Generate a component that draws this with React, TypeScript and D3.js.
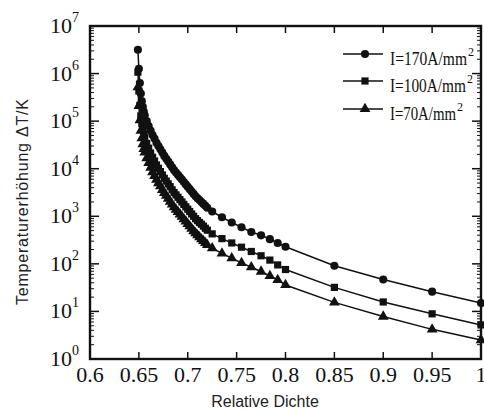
import React, { useEffect, useRef } from 'react';
import * as d3 from 'd3';

// relative density (x) shared by all three curves
const dichte = [
  0.649, 0.65, 0.651, 0.652, 0.653, 0.654, 0.655, 0.656, 0.658, 0.66,
  0.662, 0.664, 0.666, 0.668, 0.67, 0.672, 0.674, 0.676, 0.678, 0.68,
  0.682, 0.684, 0.686, 0.688, 0.69, 0.692, 0.694, 0.696, 0.698, 0.7,
  0.702, 0.704, 0.706, 0.708, 0.71, 0.712, 0.714, 0.716, 0.718, 0.72,
  0.725, 0.735, 0.745, 0.755, 0.765, 0.775, 0.784, 0.792, 0.8,
  0.85, 0.9, 0.95, 1.0,
];

// temperature rise dT/K for I=170A/mm2
const dT170 = [
  3.16e6, 1.26e6, 6.3e5, 3.8e5, 2.63e5, 2.0e5, 1.58e5, 1.32e5, 1.0e5, 7.9e4,
  6.3e4, 5.1e4, 4.3e4, 3.5e4, 3.0e4, 2.57e4, 2.19e4, 1.86e4, 1.62e4, 1.41e4,
  1.23e4, 1.07e4, 9330, 8300, 7400, 6600, 5900, 5250, 4680, 4170,
  3720, 3310, 2950, 2630, 2400, 2190, 2000, 1820, 1660, 1510,
  1260, 955, 741, 589, 468, 398, 331, 275, 229,
  91, 47, 26, 15,
];

// I=100A/mm2
const dT100 = [
  1.07e6, 4.3e5, 2.14e5, 1.29e5, 8.9e4, 6.8e4, 5.4e4, 4.5e4, 3.4e4, 2.7e4,
  2.14e4, 1.74e4, 1.45e4, 1.2e4, 1.02e4, 8700, 7400, 6300, 5500, 4800,
  4200, 3600, 3160, 2820, 2510, 2240, 2000, 1780, 1580, 1410,
  1260, 1120, 1000, 890, 810, 740, 680, 620, 560, 510,
  427, 339, 275, 224, 182, 148, 120, 95, 76,
  32, 15.8, 8.9, 5.2,
];

// I=70A/mm2
const dT70 = [
  5.2e5, 2.1e5, 1.05e5, 6.3e4, 4.4e4, 3.3e4, 2.6e4, 2.19e4, 1.66e4, 1.32e4,
  1.05e4, 8500, 7100, 5900, 5000, 4300, 3600, 3100, 2700, 2340,
  2040, 1780, 1550, 1380, 1230, 1100, 980, 870, 780, 690,
  620, 550, 490, 440, 400, 363, 331, 302, 275, 251,
  214, 166, 132, 105, 85, 69, 56, 46, 36,
  15.5, 7.8, 4.2, 2.5,
];

const legendLabels = ['I=170A/mm', 'I=100A/mm', 'I=70A/mm'];
const xTicks = [0.6, 0.65, 0.7, 0.75, 0.8, 0.85, 0.9, 0.95, 1.0];
const xTickLabels = ['0.6', '0.65', '0.7', '0.75', '0.8', '0.85', '0.9', '0.95', '1'];
const yExponents = [0, 1, 2, 3, 4, 5, 6, 7];

const W = 484, H = 411;
const left = 90, right = 481, top = 26, bottom = 359;
const serif = '"Liberation Serif", "Times New Roman", serif';
const sans = '"Liberation Sans", Arial, sans-serif';

export default function App() {
  const ref = useRef<SVGSVGElement>(null);

  useEffect(() => {
    const svg = d3.select(ref.current);
    svg.selectAll('*').remove();

    const x = d3.scaleLinear().domain([0.6, 1.0]).range([left, right]);
    const y = d3.scaleLog().domain([1, 1e7]).range([bottom, top]);

    const symbols = [d3.symbolCircle, d3.symbolSquare, d3.symbolTriangle];
    const sizes = [52, 52, 50];
    const series = [dT170, dT100, dT70];

    // curves
    const line = d3.line<number>()
      .x((d, i) => x(dichte[i]))
      .y(d => y(d));
    series.forEach((vals, s) => {
      svg.append('path')
        .attr('d', line(vals))
        .attr('fill', 'none')
        .attr('stroke', '#111')
        .attr('stroke-width', 1.5);
      svg.selectAll('.m' + s)
        .data(vals)
        .enter()
        .append('path')
        .attr('d', d3.symbol().type(symbols[s]).size(sizes[s])())
        .attr('transform', (d, i) => 'translate(' + x(dichte[i]) + ',' + y(d) + ')')
        .attr('fill', '#111');
    });

    // frame
    svg.append('rect')
      .attr('x', left).attr('y', top)
      .attr('width', right - left).attr('height', bottom - top)
      .attr('fill', 'none').attr('stroke', '#111').attr('stroke-width', 2.4);

    // x ticks (inside, bottom and top)
    xTicks.slice(1, -1).forEach(t => {
      svg.append('line').attr('x1', x(t)).attr('x2', x(t))
        .attr('y1', bottom).attr('y2', bottom - 7)
        .attr('stroke', '#111').attr('stroke-width', 1.5);
      svg.append('line').attr('x1', x(t)).attr('x2', x(t))
        .attr('y1', top).attr('y2', top + 7)
        .attr('stroke', '#111').attr('stroke-width', 1.5);
    });
    xTicks.forEach((t, i) => {
      svg.append('text')
        .attr('x', x(t)).attr('y', 382)
        .attr('text-anchor', 'middle')
        .attr('font-family', serif).attr('font-size', 22)
        .attr('fill', '#111')
        .text(xTickLabels[i]);
    });

    // y ticks, major and minor, on both sides
    yExponents.forEach(e => {
      const v = Math.pow(10, e);
      const py = y(v);
      [[left, 1], [right, -1]].forEach(([sx, dir]) => {
        if (e > 0 && e < 7) {
          svg.append('line').attr('x1', sx).attr('x2', sx + dir * 9)
            .attr('y1', py).attr('y2', py)
            .attr('stroke', '#111').attr('stroke-width', 1.5);
        }
        if (e < 7) {
          for (let k = 2; k <= 9; k++) {
            const my = y(v * k);
            svg.append('line').attr('x1', sx).attr('x2', sx + dir * 4)
              .attr('y1', my).attr('y2', my)
              .attr('stroke', '#111').attr('stroke-width', 1);
          }
        }
      });
      const label = svg.append('text')
        .attr('x', 50).attr('y', py + 7)
        .attr('font-family', serif).attr('font-size', 22)
        .attr('fill', '#111');
      label.append('tspan').text('10');
      label.append('tspan').attr('dy', -11).attr('font-size', 14).text(String(e));
    });

    // axis titles
    svg.append('text')
      .attr('x', 265).attr('y', 407)
      .attr('text-anchor', 'middle')
      .attr('font-family', sans).attr('font-size', 16)
      .attr('fill', '#222')
      .text('Relative Dichte');
    svg.append('text')
      .attr('transform', 'translate(28,202) rotate(-90)')
      .attr('text-anchor', 'middle')
      .attr('font-family', sans).attr('font-size', 16)
      .attr('fill', '#222')
      .attr('textLength', 206)
      .attr('lengthAdjust', 'spacing')
      .text('Temperaturerhöhung  ΔT/K');

    // legend
    const legendY = [54, 81, 109];
    const legendLen = [77, 76, 66];
    legendLabels.forEach((lab, s) => {
      const ly = legendY[s];
      svg.append('line').attr('x1', 343).attr('x2', 383)
        .attr('y1', ly).attr('y2', ly)
        .attr('stroke', '#111').attr('stroke-width', 1.5);
      svg.append('path')
        .attr('d', d3.symbol().type(symbols[s]).size(sizes[s])())
        .attr('transform', 'translate(365,' + ly + ')')
        .attr('fill', '#111');
      svg.append('text')
        .attr('x', 390).attr('y', ly + 11)
        .attr('font-family', serif).attr('font-size', 18)
        .attr('fill', '#111')
        .attr('textLength', legendLen[s])
        .attr('lengthAdjust', 'spacingAndGlyphs')
        .text(lab);
      svg.append('text')
        .attr('x', 390 + legendLen[s] + 1).attr('y', ly + 2)
        .attr('font-family', serif).attr('font-size', 12)
        .attr('fill', '#111')
        .text('2');
    });
  }, []);

  return (
    <svg ref={ref} width={W} height={H}
      style={{ position: 'absolute', left: 0, top: 0, background: '#fff' }} />
  );
}
